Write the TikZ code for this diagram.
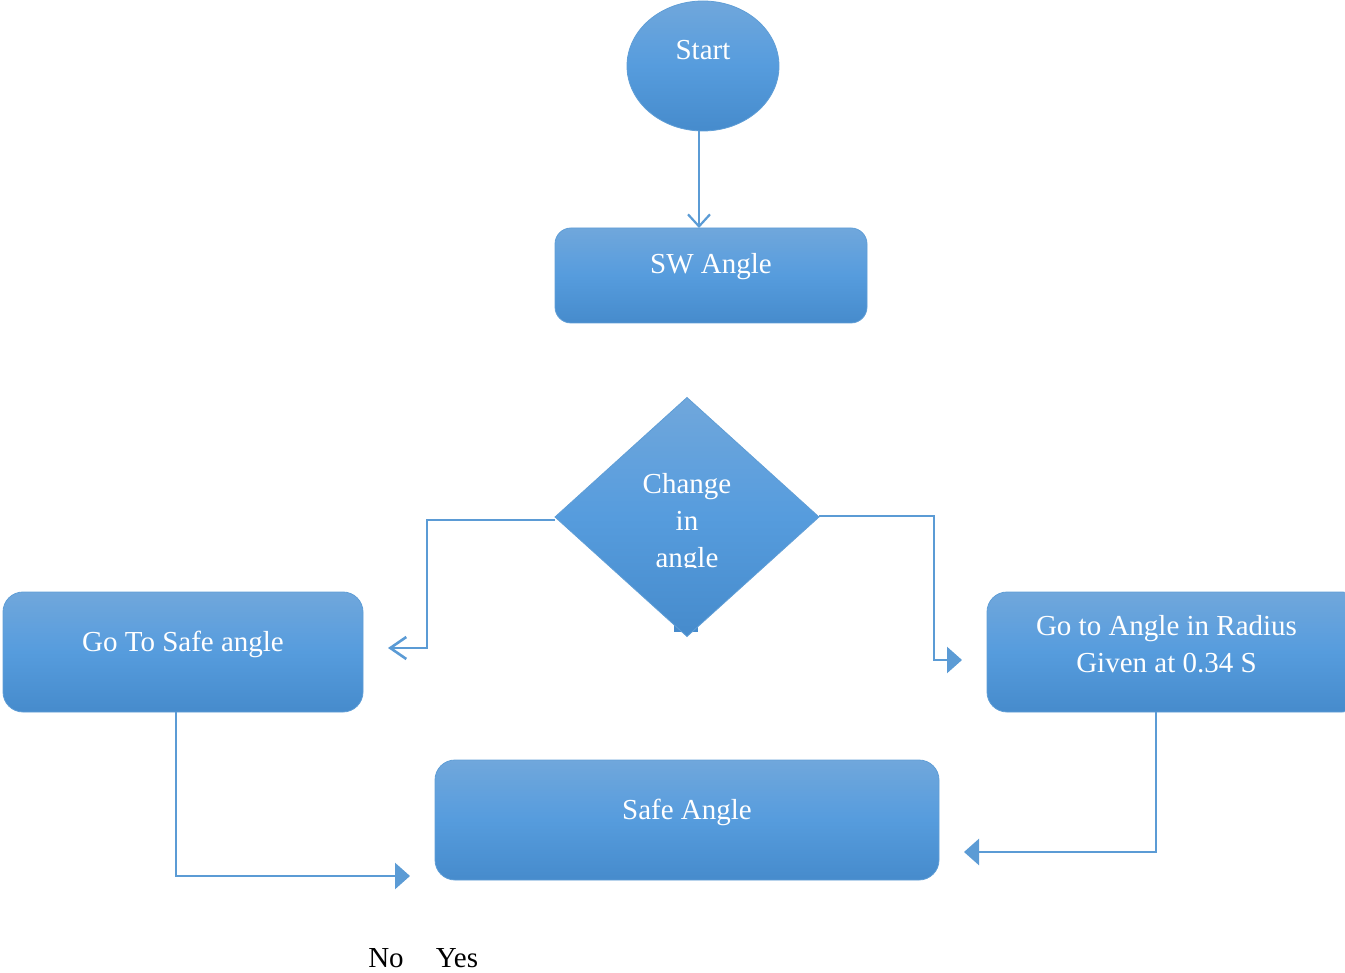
\documentclass[tikz,border=0pt]{standalone}
\usepackage{fontspec}
\setmainfont{Liberation Serif}
\usetikzlibrary{shapes.geometric,arrows.meta}
\definecolor{fillTop}{RGB}{112,167,220}
\definecolor{fillMid}{RGB}{86,156,221}
\definecolor{fillBot}{RGB}{70,139,204}
\definecolor{edgeBlue}{RGB}{96,158,214}
\definecolor{lineBlue}{RGB}{91,155,213}
\begin{document}
\begin{tikzpicture}[x=1pt,y=-1pt,
  blk/.style={draw=edgeBlue, line width=0.8pt, top color=fillTop, bottom color=fillBot, middle color=fillMid, inner sep=0pt, outer sep=0pt},
  rbox/.style={blk, rectangle, rounded corners=16pt},
  txt/.style={text=white, font=\fontsize{29}{36.5}\selectfont, anchor=base, inner sep=0pt},
  lbl/.style={text=black, font=\fontsize{29}{36.5}\selectfont, anchor=base, inner sep=0pt},
  conn/.style={draw=lineBlue, line width=2.6pt},
  openhead/.style={-{Straight Barb[length=12pt,width=22pt]}},
  fillhead/.style={-{Triangle[length=15pt,width=26pt]}}]
\useasboundingbox (0,0) rectangle (1345,973);
\clip (0,0) rectangle (1345,973);
% shapes
\node[blk, ellipse, minimum width=152pt, minimum height=130pt] (start) at (703,66) {};
\node[rbox, minimum width=312pt, minimum height=95pt] (sw) at (711,275.5) {};
\fill[fillBot] (674,610) rectangle (698,632);
\node[blk, diamond, minimum width=264pt, minimum height=239pt] (dec) at (687,517) {};
\node[rbox, rounded corners=20pt, minimum width=360pt, minimum height=120pt] (safe) at (183,652) {};
\node[rbox, rounded corners=20pt, minimum width=375pt, minimum height=120pt] (rad) at (1174.5,652) {};
\node[rbox, rounded corners=20pt, minimum width=504pt, minimum height=120pt] (sa) at (687,820) {};
% texts
\node[txt] (tstart) at (703,60) {Start};
\node[txt] (tsw) at (711,274) {SW Angle};
\begin{scope}
\clip (590,440) rectangle (790,567);
\node[txt] (tdec1) at (687,494) {Change};
\node[txt] (tdec2) at (687,530) {in};
\node[txt] (tdec3) at (687,567) {angle};
\end{scope}
\node[txt] (tsafe) at (183,651) {Go To Safe angle};
\node[txt] (trad1) at (1166.5,635) {Go to Angle in Radius};
\node[txt] (trad2) at (1166.5,672) {Given at 0.34 S};
\node[txt] (tsa) at (687,819) {Safe Angle};
\node[lbl] (no) at (386,967) {No};
\node[lbl] (yes) at (457,967) {Yes};
% coordinates
\coordinate (lk) at (427,648);
\coordinate (lt) at (388,648);
\coordinate (rk) at (934,660);
\coordinate (rt) at (962,660);
\coordinate (bk) at (176,876);
\coordinate (bt) at (410,876);
\coordinate (ck) at (1156,852);
\coordinate (ct) at (964,852);
% connectors
\draw[conn, line width=2.2pt, openhead] ([xshift=-4pt]start.south) -- ([xshift=-12pt]sw.north);
\draw[conn, -{Straight Barb[length=16pt,width=22pt]}] ([yshift=-3pt]dec.west) -| (lk) -- (lt);
\draw[conn, fillhead] ([yshift=1pt]dec.east) -| (rk) -- (rt);
\draw[conn, fillhead] (safe.south -| bk) -- (bk) -- (bt);
\draw[conn, fillhead] (rad.south -| ck) -- (ck) -- (ct);
\end{tikzpicture}
\end{document}
